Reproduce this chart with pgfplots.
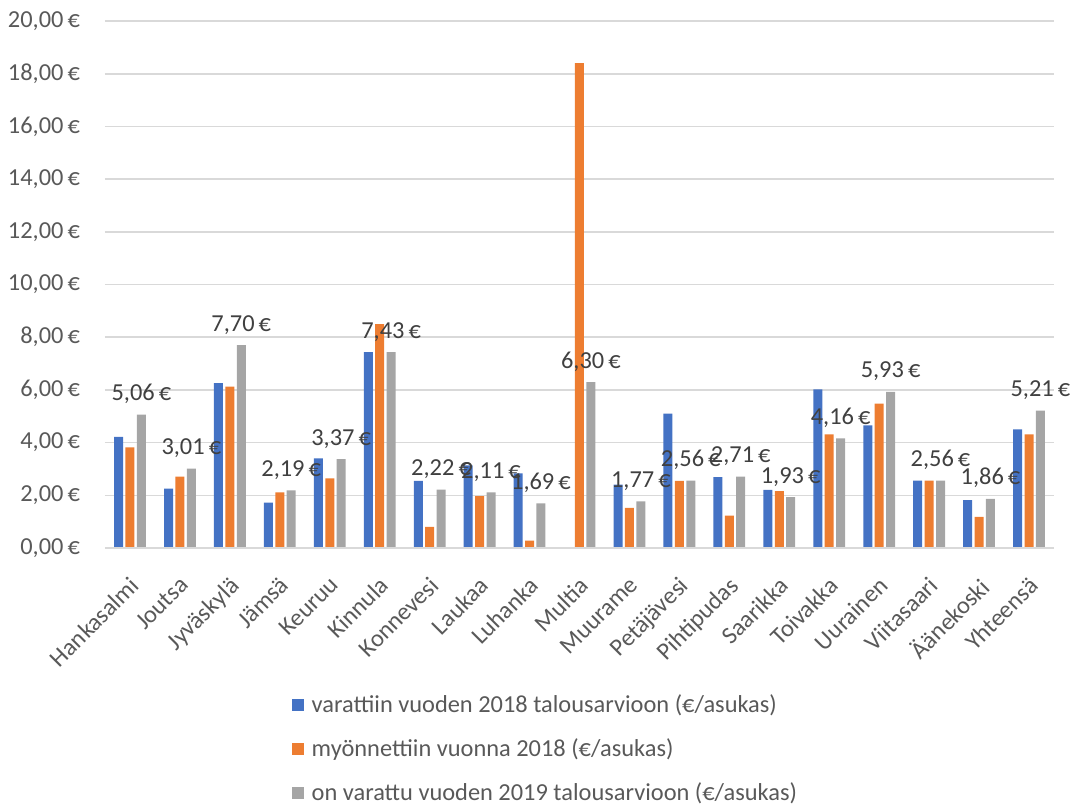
\documentclass[border=0pt]{standalone}
\usepackage{pgfplots}
\pgfplotsset{compat=1.18}
\usepackage{pgfplotstable}
\usepackage{fontspec}
\setmainfont{Carlito}
\definecolor{cblue}{HTML}{4472C4}
\definecolor{corange}{HTML}{ED7D31}
\definecolor{cgray}{HTML}{A5A5A5}
\definecolor{gridc}{HTML}{D9D9D9}
\definecolor{txt}{HTML}{595959}
\definecolor{lbl}{HTML}{404040}
\pgfplotstableread{
x a b c
0 4.22 3.82 5.06
1 2.25 2.71 3.01
2 6.26 6.12 7.70
3 1.72 2.11 2.19
4 3.40 2.64 3.37
5 7.43 8.50 7.43
6 2.55 0.80 2.22
7 3.14 1.97 2.11
8 2.83 0.28 1.69
9 nan 18.40 6.30
10 2.41 1.52 1.77
11 5.10 2.55 2.56
12 2.69 1.23 2.71
13 2.21 2.16 1.93
14 6.02 4.31 4.16
15 4.65 5.48 5.93
16 2.56 2.56 2.56
17 1.82 1.18 1.86
18 4.50 4.31 5.21
}\data
\begin{document}
\begin{tikzpicture}
\useasboundingbox (-52.5pt,-128.5pt) rectangle (486.5pt,274pt);
\begin{axis}[
  scale only axis,
  width=474.5pt, height=263.5pt,
  xmin=-0.5, xmax=18.5,
  ymin=0, ymax=20,
  ytick={0,2,...,20},
  xtick={0,...,18},
  xticklabels={Hankasalmi,Joutsa,Jyväskylä,Jämsä,Keuruu,Kinnula,Konnevesi,Laukaa,Luhanka,Multia,Muurame,Petäjävesi,Pihtipudas,Saarikka,Toivakka,Uurainen,Viitasaari,Äänekoski,Yhteensä},
  ybar=1.2pt,
  bar width=4.5pt,
  axis line style={draw=none},
  ymajorgrids,
  grid style={draw=gridc, line width=0.8pt},
  major tick length=0pt,
  tick label style={font=\fontsize{12.2}{14}\selectfont, text=txt},
  /pgf/number format/assume math mode=true,
  yticklabel={\pgfmathprintnumber[fixed,fixed zerofill,precision=2,use comma]{\tick}\,€},
  yticklabel style={xshift=-9pt},
  xticklabel style={rotate=45, anchor=north east, inner sep=0pt, yshift=-9pt, xshift=-10pt},
  legend style={at={(0.19,-0.262)}, anchor=north west, draw=none, fill=none,
     font=\fontsize{12.2}{14}\selectfont, text=txt, row sep=7.5pt,
     /tikz/every odd column/.style={column sep=2pt}},
  legend cell align=left,
  legend image code/.code={\fill[#1,draw=none] (0pt,-3pt) rectangle (6pt,3pt);},
  clip=false,
]
\addplot[fill=cblue, draw=none] table[x=x,y=a] {\data};
\addplot[fill=corange, draw=none] table[x=x,y=b] {\data};
\addplot[fill=cgray, draw=none,
  nodes near coords={\pgfmathprintnumber[fixed,fixed zerofill,precision=2,use comma,assume math mode=true]{\pgfplotspointmeta}\,€},
  every node near coord/.append style={font=\fontsize{12.2}{14}\selectfont, text=lbl, anchor=base, yshift=7pt, inner sep=0pt}
  ] table[x=x,y=c] {\data};
\draw[gridc, line width=1pt] (axis cs:-0.5,0) -- (axis cs:18.5,0);
\legend{varattiin vuoden 2018 talousarvioon (€/asukas), myönnettiin vuonna 2018 (€/asukas), on varattu vuoden 2019 talousarvioon (€/asukas)}
\end{axis}
\end{tikzpicture}
\end{document}
